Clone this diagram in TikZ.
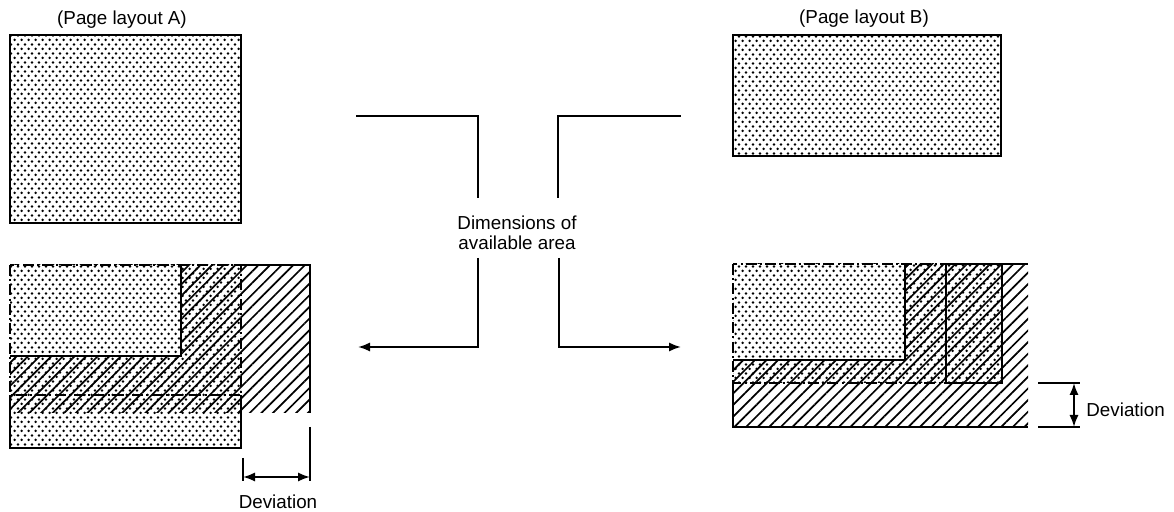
\documentclass[tikz,border=0pt]{standalone}
\usepackage{fontspec}
\setmainfont{Liberation Sans}
\usetikzlibrary{patterns,patterns.meta,arrows.meta}

% fine diagonal dot screen used for the page areas
\pgfdeclarepatternformonly{stipple}{\pgfqpoint{0pt}{0pt}}{\pgfqpoint{3.4pt}{4.4pt}}{\pgfqpoint{3.4pt}{4.4pt}}{%
  \pgfpathcircle{\pgfqpoint{0.85pt}{1.1pt}}{0.7pt}%
  \pgfpathcircle{\pgfqpoint{2.55pt}{3.3pt}}{0.7pt}%
  \pgfusepath{fill}}

\begin{document}
\begin{tikzpicture}[x=0.5pt,y=-0.5pt,
  outline/.style={line width=1pt},
  dashdot/.style={line width=1.2pt,dash pattern=on 5.5pt off 1.6pt on 1pt off 1.6pt},
  stip/.style={pattern=stipple},
  hatch/.style={pattern={Lines[angle=45,distance=4.1pt,line width=0.85pt]}},
  lbl/.style={font=\fontsize{9.4}{10}\selectfont,inner sep=0pt,align=center},
  tip/.style={-{Latex[length=6pt,width=4.6pt]}},
  dimarrow/.style={line width=1pt,{Latex[length=6pt,width=4.6pt]}-{Latex[length=6pt,width=4.6pt]}}]
\useasboundingbox (0,0) rectangle (1174,512);

% ---- headings
\node[lbl] (labA) at (122,20) {(Page layout A)};
\node[lbl] (labB) at (864,19) {(Page layout B)};

% ---- original pages
\path[stip] (10,35) rectangle (241,223);
\draw[outline] (10,35) rectangle (241,223);
\path[stip] (733,35) rectangle (1001,156);
\draw[outline] (733,35) rectangle (1001,156);

% ---- layout A: page shifted downward
\path[hatch] (10,265) rectangle (310,413);
\draw[outline] (241,265) -- (310,265) -- (310,413);
\path[stip] (10,265) rectangle (241,448);
\draw[outline] (10,395) -- (10,448) -- (241,448) -- (241,395);
\fill[white] (10,265) rectangle (181,356);
\path[stip] (10,265) rectangle (181,356);
\draw[outline] (181,265) -- (181,356) -- (10,356);
\draw[dashdot] (10,265) rectangle (241,395);

% deviation A
\coordinate (dA1) at (243,477);
\coordinate (dA2) at (310,477);
\draw[outline] (243,458) -- (243,481);
\draw[outline] (310,427) -- (310,481);
\draw[dimarrow] (dA1) -- (dA2);
\node[lbl] (devA) at (278,502) {Deviation};

% ---- layout B: page shifted to the right
\path[hatch] (733,264) rectangle (1028,427);
\draw[outline] (1002,264) -- (1028,264);
\draw[outline] (733,383) -- (733,427) -- (1028,427);
\path[stip] (733,264) rectangle (1002,383);
\draw[outline] (946,264) rectangle (1002,383);
\fill[white] (733,264) rectangle (905,360);
\path[stip] (733,264) rectangle (905,360);
\draw[outline] (905,264) -- (905,360) -- (733,360);
\draw[dashdot] (733,264) rectangle (946,383);

% deviation B
\coordinate (dB1) at (1074,383);
\coordinate (dB2) at (1074,427);
\draw[outline] (1038,383) -- (1080,383);
\draw[outline] (1038,427) -- (1080,427);
\draw[dimarrow] (dB1) -- (dB2);
\node[lbl,anchor=west] (devB) at (1086,410) {Deviation};

% ---- central label with brackets
\node[lbl] (dim) at (517,233) {Dimensions of\\available area};

\coordinate (la) at (357,116);
\coordinate (lb) at (478,116);
\coordinate (lc) at (478,197);
\coordinate (ld) at (478,258);
\coordinate (le) at (478,347);
\coordinate (lf) at (358,347);
\draw[outline,line cap=rect] (la) -- (lb) -- (lc);
\draw[outline,tip] (ld) -- (le) -- (lf);

\coordinate (ra) at (680,116);
\coordinate (rb) at (558,116);
\coordinate (rc) at (558,197);
\coordinate (rd) at (559,258);
\coordinate (re) at (559,347);
\coordinate (rf) at (681,347);
\draw[outline,line cap=rect] (ra) -- (rb) -- (rc);
\draw[outline,tip] (rd) -- (re) -- (rf);
\end{tikzpicture}
\end{document}
